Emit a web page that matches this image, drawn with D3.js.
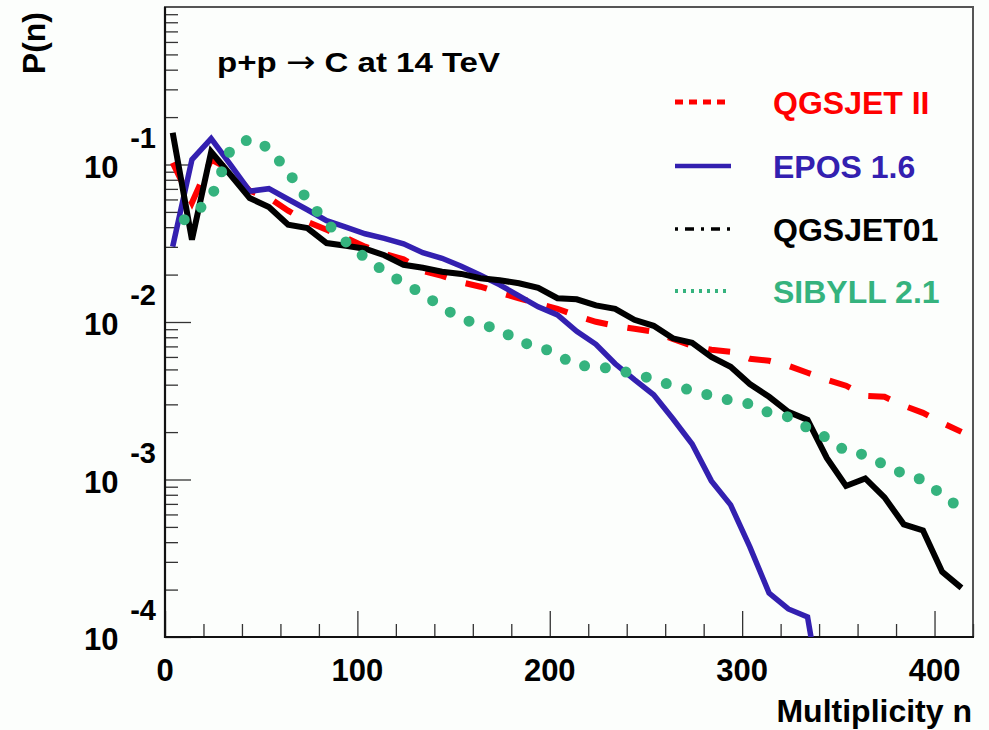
<!DOCTYPE html>
<html>
<head>
<meta charset="utf-8">
<script src="https://cdn.jsdelivr.net/npm/d3@7"></script>
<style>
  html, body { margin: 0; padding: 0; background: #fcfefc; }
  svg { display: block; }
  text { font-family: "Liberation Sans", Arial, Helvetica, sans-serif; font-weight: bold; }
</style>
</head>
<body>
<svg id="chart" width="989" height="730"></svg>
<script>
// Charged multiplicity bin centres
const multiplicity = [4, 14, 24, 34, 44, 54, 64, 74, 84, 94, 104, 114, 124, 134, 144, 154, 164, 174, 184, 194,
  204, 214, 224, 234, 244, 254, 264, 274, 284, 294, 304, 314, 324, 334, 344, 354, 364, 374, 384, 394, 404, 414];

// P(n) for each event generator
const qgsjetII = [0.1026, 0.0572, 0.1073, 0.0927, 0.0682, 0.0615, 0.0509, 0.0433, 0.0385, 0.0343,
  0.0301, 0.0271, 0.0250, 0.0211, 0.01965, 0.01787, 0.01675, 0.01533, 0.01415, 0.01305,
  0.01213, 0.01095, 0.01003, 0.00946, 0.00905, 0.00867, 0.00782, 0.00706, 0.00666, 0.00647,
  0.00584, 0.00567, 0.00527, 0.00476, 0.0043, 0.00394, 0.0034, 0.00335, 0.00294, 0.00265,
  0.00229, 0.002006];

const epos16 = [0.0301, 0.1073, 0.1459, 0.0997, 0.0677, 0.0702, 0.0602, 0.0516, 0.0440, 0.0400,
  0.03634, 0.0340, 0.0314, 0.02752, 0.0254, 0.0226, 0.0198, 0.0172, 0.01467, 0.01249,
  0.0111, 0.00873, 0.00722, 0.00543, 0.0043, 0.00345, 0.00243, 0.00168, 0.00098, 0.00069,
  0.000373, 0.00019, 0.0001506, 0.000134, 0.000026];

const qgsjet01 = [0.159, 0.0333, 0.1205, 0.0861, 0.0612, 0.0537, 0.0415, 0.0395, 0.0317, 0.0305,
  0.0292, 0.02655, 0.02307, 0.0221, 0.02084, 0.0202, 0.01895, 0.0184, 0.01762, 0.01648,
  0.01415, 0.01393, 0.01276, 0.01213, 0.01033, 0.00946, 0.00788, 0.00738, 0.00601, 0.00519,
  0.00404, 0.00335, 0.00269, 0.00239, 0.00137, 0.00091, 0.001016, 0.00077, 0.000519, 0.000475,
  0.000259, 0.000205];

const sibyll21 = [0.0409, 0.0473, 0.0615, 0.124, 0.146, 0.127, 0.090, 0.0597, 0.0427, 0.0323,
  0.0256, 0.021, 0.01762, 0.0151, 0.0124, 0.01048, 0.0096, 0.00905, 0.00743, 0.00706,
  0.00619, 0.00527, 0.00527, 0.00497, 0.00469, 0.00433, 0.00393, 0.00368, 0.0034, 0.00318,
  0.00302, 0.00265, 0.0025, 0.00213, 0.001838, 0.00151, 0.001433, 0.001238, 0.001085, 0.000994,
  0.000798, 0.00065];

const seriesNames = ["QGSJET II", "EPOS 1.6", "QGSJET01", "SIBYLL 2.1"];
const xTickValues = [0, 100, 200, 300, 400];
const yDecadeExponents = [-1, -2, -3, -4];
const titleParts = ["p+p ", "\u2192", " C at 14 TeV"];
const xTitle = "Multiplicity n";
const yTitle = "P(n)";

const svg = d3.select("#chart");
const frame = { left: 165, right: 973, top: 7, bottom: 637 };

const x = d3.scaleLinear().domain([0, 420]).range([frame.left, frame.right]);
const y = d3.scaleLog().domain([1e-4, 1]).range([frame.bottom, frame.top]);

svg.append("rect").attr("width", 989).attr("height", 730).attr("fill", "#fcfefc");

svg.append("defs").append("clipPath").attr("id", "plotClip")
  .append("rect")
  .attr("x", frame.left).attr("y", frame.top)
  .attr("width", frame.right - frame.left).attr("height", frame.bottom - frame.top);

// Frame (top and right edges)
svg.append("rect")
  .attr("x", frame.left).attr("y", frame.top)
  .attr("width", frame.right - frame.left).attr("height", frame.bottom - frame.top)
  .attr("fill", "none").attr("stroke", "#555").attr("stroke-width", 2);

// Ticks
const minorY = [];
for (let e = -4; e < 0; e++) {
  for (let m = 2; m <= 9; m++) minorY.push(m * Math.pow(10, e));
}
const majorY = yDecadeExponents.map(e => Math.pow(10, e));
const minorX = d3.range(0, 421, 20).filter(v => v % 100 !== 0);

function styleAxis(g) {
  g.select(".domain").remove();
  g.selectAll(".tick line").attr("stroke", "#333").attr("stroke-width", 1.3);
  g.selectAll(".tick text").remove();
}

svg.append("g").attr("transform", `translate(${frame.left},0)`)
  .call(d3.axisLeft(y).tickValues(minorY).tickSize(-13).tickFormat(""))
  .call(styleAxis);
svg.append("g").attr("transform", `translate(${frame.left},0)`)
  .call(d3.axisLeft(y).tickValues(majorY).tickSize(-26).tickFormat(""))
  .call(styleAxis);
svg.append("g").attr("transform", `translate(0,${frame.bottom})`)
  .call(d3.axisBottom(x).tickValues(minorX).tickSize(-13).tickFormat(""))
  .call(styleAxis);
svg.append("g").attr("transform", `translate(0,${frame.bottom})`)
  .call(d3.axisBottom(x).tickValues(xTickValues).tickSize(-26).tickFormat(""))
  .call(styleAxis);

// Axis lines
svg.append("line").attr("x1", frame.left).attr("x2", frame.left)
  .attr("y1", frame.top).attr("y2", frame.bottom + 1)
  .attr("stroke", "#111").attr("stroke-width", 2.2);
svg.append("line").attr("x1", frame.left - 1).attr("x2", frame.right + 1)
  .attr("y1", frame.bottom).attr("y2", frame.bottom)
  .attr("stroke", "#111").attr("stroke-width", 2.2);

// X tick labels
svg.append("g").selectAll("text").data(xTickValues).join("text")
  .attr("x", d => x(d)).attr("y", 681)
  .attr("text-anchor", "middle").attr("font-size", 31).attr("fill", "#000")
  .text(d => d);

// Y tick labels: 10 with exponent
const yLab = svg.append("g").selectAll("g").data(yDecadeExponents).join("g");
yLab.append("text")
  .attr("x", 118.5).attr("y", d => y(Math.pow(10, d)) + 13)
  .attr("text-anchor", "end").attr("font-size", 31).attr("fill", "#000")
  .text("10");
yLab.append("text")
  .attr("x", 156).attr("y", d => y(Math.pow(10, d)) - 17)
  .attr("text-anchor", "end").attr("font-size", 29).attr("fill", "#000")
  .text(d => String(d));

// Axis titles
svg.append("text").attr("x", 972).attr("y", 722)
  .attr("text-anchor", "end").attr("font-size", 32).attr("fill", "#000")
  .text(xTitle);
svg.append("text")
  .attr("transform", "translate(45,12) rotate(-90)")
  .attr("text-anchor", "end").attr("font-size", 32).attr("fill", "#000")
  .text(yTitle);

// Title, with a wide symbol arrow
const title = svg.append("text").attr("x", 217).attr("y", 72)
  .attr("font-size", 28).attr("fill", "#000")
  .attr("textLength", 283).attr("lengthAdjust", "spacingAndGlyphs");
title.append("tspan").text(titleParts[0]);
title.append("tspan")
  .style("font-family", "'DejaVu Sans', sans-serif").style("font-weight", "normal")
  .attr("font-size", 30).text(titleParts[1]);
title.append("tspan").text(titleParts[2]);

// Curves
const line = d3.line().x(d => x(d[0])).y(d => y(d[1]));
const pairs = vals => vals.map((v, i) => [multiplicity[i], v]);

const series = [
  { name: seriesNames[0], values: qgsjetII, color: "#ff0000", width: 6, dash: "22,20", offset: 0, cap: "butt",
    legendDash: "8,6", legendWidth: 5, legendCap: "butt" },
  { name: seriesNames[1], values: epos16, color: "#3320b0", width: 5.5, dash: null, offset: 0, cap: "butt",
    legendDash: null, legendWidth: 4.5, legendCap: "butt" },
  { name: seriesNames[2], values: qgsjet01, color: "#000000", width: 6, dash: null, offset: 0, cap: "butt",
    legendDash: "3,7,9,7", legendWidth: 3.5, legendCap: "butt" },
  { name: seriesNames[3], values: sibyll21, color: "#35b37e", width: 11, dash: "0,21", offset: 8, cap: "round",
    legendDash: "3,5", legendWidth: 4, legendCap: "butt" }
];

const curves = svg.append("g").attr("clip-path", "url(#plotClip)");
series.forEach(s => {
  curves.append("path")
    .datum(pairs(s.values))
    .attr("d", line)
    .attr("fill", "none")
    .attr("stroke", s.color)
    .attr("stroke-width", s.width)
    .attr("stroke-linejoin", "miter")
    .attr("stroke-linecap", s.cap)
    .attr("stroke-dasharray", s.dash)
    .attr("stroke-dashoffset", s.offset);
});

// Legend
const legendBaselines = [114, 178, 241, 303];
const legend = svg.append("g");
series.forEach((s, i) => {
  const yb = legendBaselines[i];
  legend.append("line")
    .attr("x1", 675).attr("x2", 731)
    .attr("y1", yb - 12).attr("y2", yb - 12)
    .attr("stroke", s.color).attr("stroke-width", s.legendWidth)
    .attr("stroke-linecap", s.legendCap)
    .attr("stroke-dasharray", s.legendDash);
  legend.append("text")
    .attr("x", 773).attr("y", yb)
    .attr("font-size", 32).attr("fill", s.color)
    .text(s.name);
});
</script>
</body>
</html>
